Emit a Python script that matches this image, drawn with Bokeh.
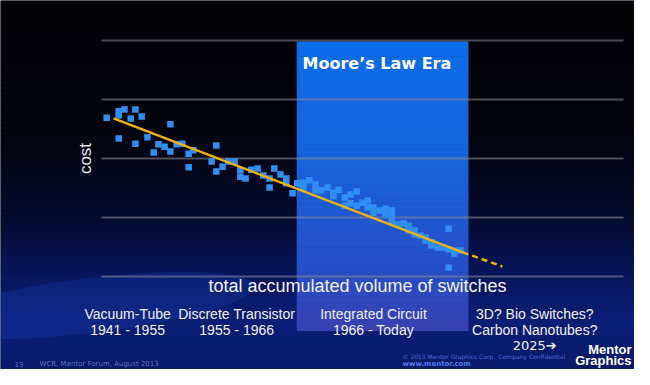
import numpy as np
from bokeh.plotting import figure
from bokeh.models import Range1d
from bokeh.core.properties import value
from bokeh.embed import file_html
from bokeh.resources import INLINE

# ---------------- data ----------------
# x: total accumulated volume of switches (arbitrary log units, 0..10)
# y: cost (arbitrary log units, grid every 1)
volume = [0.10, 0.33, 0.33, 0.44, 0.56, 0.65, 0.77, 0.33, 0.65, 0.88,
          1.32, 1.09, 1.21, 1.00, 1.32, 1.44, 1.55, 1.67, 1.76, 1.67,
          2.20, 2.11, 2.20, 2.32, 2.43, 2.55, 2.66, 2.66, 2.76, 2.87,
          2.99, 3.10, 3.22, 3.22, 3.31, 3.43, 3.54, 3.54, 3.66, 3.75,
          3.87, 3.87, 3.98, 4.10, 4.10, 4.21, 4.33, 4.44, 4.44, 4.54,
          4.66, 4.66, 4.77, 4.77, 4.89, 4.89, 5.00, 5.10, 5.10, 5.21,
          5.21, 5.33, 5.44, 5.44, 5.56, 5.56, 5.56, 5.67, 5.79, 5.88,
          5.88, 6.00, 6.00, 6.11, 6.21, 6.21, 6.32, 6.32, 6.44, 6.55,
          6.65, 6.65, 6.76, 6.76, 6.88, 6.65]
cost = [2.69, 2.80, 2.73, 2.83, 2.68, 2.83, 2.71, 2.34, 2.25, 2.36,
        2.58, 2.24, 2.20, 2.10, 2.12, 2.24, 2.25, 2.08, 2.14, 1.85,
        2.22, 1.95, 1.78, 1.86, 1.95, 1.95, 1.80, 1.69, 1.66, 1.81,
        1.83, 1.71, 1.66, 1.51, 1.83, 1.73, 1.66, 1.58, 1.41, 1.58,
        1.59, 1.49, 1.63, 1.56, 1.46, 1.46, 1.51, 1.42, 1.36, 1.47,
        1.34, 1.20, 1.39, 1.24, 1.44, 1.20, 1.25, 1.29, 1.17, 1.17,
        1.08, 1.12, 1.15, 1.05, 1.12, 1.03, 0.93, 0.88, 0.90, 0.86,
        0.78, 0.78, 0.71, 0.69, 0.66, 0.61, 0.58, 0.53, 0.49, 0.49,
        0.81, 0.46, 0.44, 0.39, 0.44, 0.15]

trend_x = [0.23, 6.92]
trend_y = [2.68, 0.41]
forecast_x = [6.92, 7.68]
forecast_y = [0.41, 0.17]

grid_levels = [0, 1, 2, 3, 4]
grid_span = [0, 10]

era_start, era_end = 3.74, 7.03
era_title = "Moore\u2019s Law Era"

era_centers = [0.50, 2.59, 5.21, 8.30]
era_names = ["Vacuum-Tube", "Discrete Transistor", "Integrated Circuit", "3D? Bio Switches?"]
era_years = ["1941 - 1955", "1955 - 1966", "1966 - Today", "Carbon Nanotubes?"]
future_year = "2025\u2794"

x_label = "total accumulated volume of switches"
y_label = "cost"

# ---------------- layout helpers (reference pixel -> data) ----------------
PX0, SX, PY0, SY = 101.0, 52.2, 276.0, 59.0
def X(px):
    return (px - PX0) / SX
def Y(py):
    return (PY0 - py) / SY

def lerp_color(stops, t):
    for (a, ca), (b, cb) in zip(stops[:-1], stops[1:]):
        if a <= t <= b:
            f = (t - a) / (b - a) if b > a else 0
            c = [int(round(ca[i] + f * (cb[i] - ca[i]))) for i in range(3)]
            return "#%02x%02x%02x" % tuple(c)
    c = stops[-1][1]
    return "#%02x%02x%02x" % tuple(c)

W, H = 634, 369
p = figure(width=W, height=H, output_backend="svg", toolbar_location=None,
           x_range=Range1d(X(0), X(W)), y_range=Range1d(Y(H), Y(0)),
           x_axis_location=None, y_axis_location=None, min_border=0)
p.grid.visible = False
p.outline_line_color = None
p.background_fill_color = "#020205"
p.border_fill_color = "#020205"

# background vertical gradient
bg_stops = [(0, (2, 2, 6)), (130, (3, 4, 12)), (210, (5, 9, 40)),
            (270, (8, 20, 88)), (320, (11, 30, 118)), (385, (9, 24, 100))]
edges = np.linspace(0, 385, 78)
tops, bots, cols = [], [], []
for a, b in zip(edges[:-1], edges[1:]):
    tops.append(Y(a)); bots.append(Y(b) - 0.01)
    cols.append(lerp_color(bg_stops, (a + b) / 2))
p.quad(left=X(0), right=X(650), top=tops, bottom=bots, fill_color=cols, line_color=None)

# soft swoosh on bottom-left
p.ellipse(x=X(90), y=Y(305), width=X(330) - X(0), height=(Y(280) - Y(335)),
          angle=0.12, fill_color="#1a40b8", fill_alpha=0.28, line_color=None)

# Moore's law era band (gradient)
rect_stops = [(41, (11, 109, 232)), (150, (22, 100, 220)), (280, (40, 76, 196)), (330, (56, 64, 176))]
redges = np.linspace(41, 330, 60)
rt, rb, rc = [], [], []
for a, b in zip(redges[:-1], redges[1:]):
    rt.append(Y(a)); rb.append(Y(b) - 0.01)
    rc.append(lerp_color(rect_stops, (a + b) / 2))
p.quad(left=era_start, right=era_end, top=rt, bottom=rb, fill_color=rc, line_color=None)

# grid lines
for g in grid_levels:
    p.line(grid_span, [g, g], line_color="#8c8c98", line_alpha=0.55, line_width=2)

# scatter
p.scatter(volume, cost, marker="square", size=6.5, fill_color="#2f8ff2", line_color=None)

# trend
p.line(trend_x, trend_y, line_color="#f2b20c", line_width=2.5)
p.line(forecast_x, forecast_y, line_color="#f2b20c", line_width=2.5, line_dash="6 4")

# texts
p.text(x=[X(302)], y=[Y(63)], text=[era_title], text_font=value("DejaVu Sans"),
       text_font_style="bold", text_font_size="16px", text_color="#ffffff",
       text_baseline="middle", text_align="left")

p.text(x=[X(85)], y=[Y(158)], text=[y_label], angle=np.pi / 2, text_font=value("Liberation Sans"),
       text_font_size="17px", text_color="#e8e8e8", text_baseline="middle", text_align="center")

p.text(x=[X(357)], y=[Y(285)], text=[x_label], text_font=value("Liberation Sans"),
       text_font_size="18px", text_color="#f2f2f2", text_baseline="middle", text_align="center")

p.text(x=era_centers, y=[Y(313)] * 4, text=era_names, text_font=value("Liberation Sans"),
       text_font_size="14px", text_color="#f0f0f0", text_baseline="middle", text_align="center")
p.text(x=era_centers, y=[Y(329)] * 4, text=era_years, text_font=value("Liberation Sans"),
       text_font_size="14px", text_color="#f0f0f0", text_baseline="middle", text_align="center")
p.text(x=[era_centers[3]], y=[Y(345)], text=[future_year], text_font=value("DejaVu Sans"),
       text_font_size="13px", text_color="#f0f0f0", text_baseline="middle", text_align="center")

# footer (kept inside the 634x369 frame)
p.text(x=[X(14), X(39)], y=[Y(363), Y(363)], text=["13", "WCR, Mentor Forum, August 2013"],
       text_font=value("DejaVu Sans"), text_font_size="7px", text_color="#5c78c8",
       text_baseline="middle", text_align="left")
p.text(x=[X(402), X(498)], y=[Y(356), Y(356)],
       text=["\u00a9 2013 Mentor Graphics Corp.", "Company Confidential"],
       text_font=value("DejaVu Sans"), text_font_size="6px", text_color="#4d6ad6",
       text_baseline="middle", text_align="left")
p.text(x=[X(402)], y=[Y(363)], text=["www.mentor.com"],
       text_font=value("DejaVu Sans"), text_font_size="7px", text_font_style="bold",
       text_color="#4f7cf0", text_baseline="middle", text_align="left")
p.text(x=[X(631), X(631)], y=[Y(349), Y(360)], text=["Mentor", "Graphics"],
       text_font=value("Liberation Sans"), text_font_size="13px", text_font_style="bold",
       text_color="#ffffff", text_baseline="middle", text_align="right")

open("out.html", "w").write(file_html(p, INLINE))
